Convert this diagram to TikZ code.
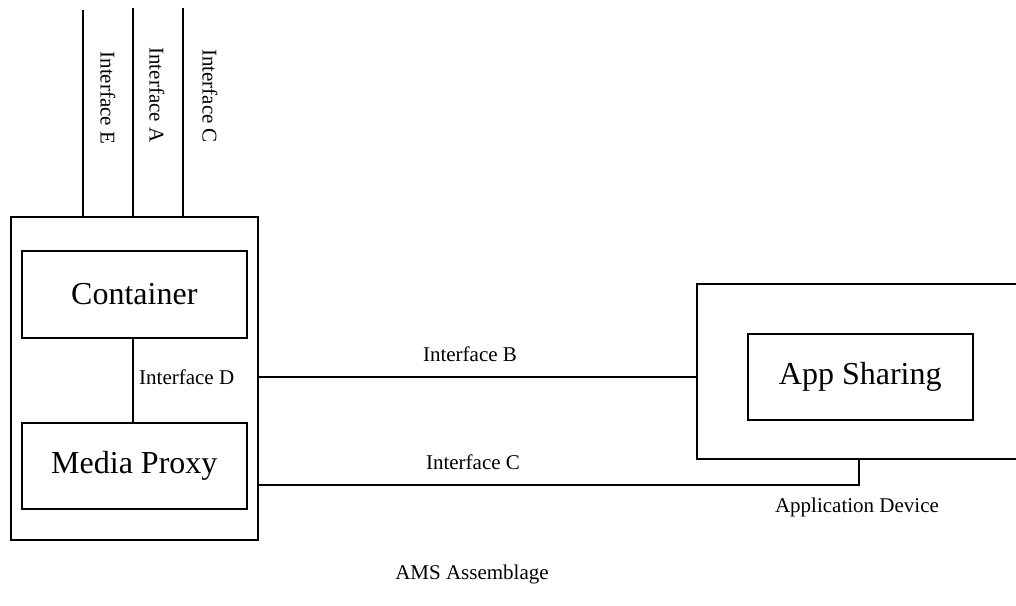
\documentclass[tikz,border=0pt]{standalone}
\usepackage{fontspec}
\setmainfont{Liberation Serif}
\begin{document}
\begin{tikzpicture}[x=1pt,y=-1pt,
  box/.style={draw,line width=1.6pt,inner sep=0pt,anchor=north west},
  conn/.style={line width=1.6pt},
  big/.style={font=\fontsize{32}{36}\selectfont},
  small/.style={font=\fontsize{21}{24}\selectfont,inner sep=0pt}]
\useasboundingbox (0,0) rectangle (1016,605);
\clip (0,0) rectangle (1016,605);
% left assemblage
\node[box,minimum width=247pt,minimum height=323pt] (ams) at (10,216) {};
\node[box,big,minimum width=225pt,minimum height=87pt] (cont) at (21,250) {};
\node[big] at (cont.center) {Container};
\node[box,big,minimum width=225pt,minimum height=86pt] (mp) at (21,422) {};
\node[big] at (mp.center) {Media Proxy};
% right device
\node[box,minimum width=330pt,minimum height=175pt] (dev) at (696,283) {};
\node[box,minimum width=225pt,minimum height=86pt] (app) at (747,333) {};
\node[big] at (app.center) {App Sharing};
% top interfaces
\coordinate (tE) at (83,10);
\coordinate (tA) at (133,8);
\coordinate (tC) at (183,8);
\draw[conn] (tE) -- (tE |- ams.north);
\draw[conn] (tA) -- (tA |- ams.north);
\draw[conn] (tC) -- (tC |- ams.north);
\node[small,rotate=-90] (lE) at (108,98) {Interface E};
\node[small,rotate=-90] (lA) at (157,95) {Interface A};
\node[small,rotate=-90] (lC) at (210,96) {Interface C};
% interface D
\draw[conn] (cont.south -| 133,0) -- (mp.north -| 133,0);
\node[small,anchor=west] (lD) at (139,377) {Interface D};
% interface B
\coordinate (bL) at (257,377);
\draw[conn] (bL) -- (bL -| dev.west);
\node[small] (lB) at (470,354) {Interface B};
% interface C
\coordinate (cL) at (257,485);
\coordinate (cR) at (859,485);
\draw[conn] (cL) -- (cR) -- (cR |- dev.south);
\node[small] (lC2) at (473,462) {Interface C};
\node[small] (lDev) at (857,507) {Application Device};
\node[small] (lAMS) at (472,574) {AMS Assemblage};
\end{tikzpicture}
\end{document}
